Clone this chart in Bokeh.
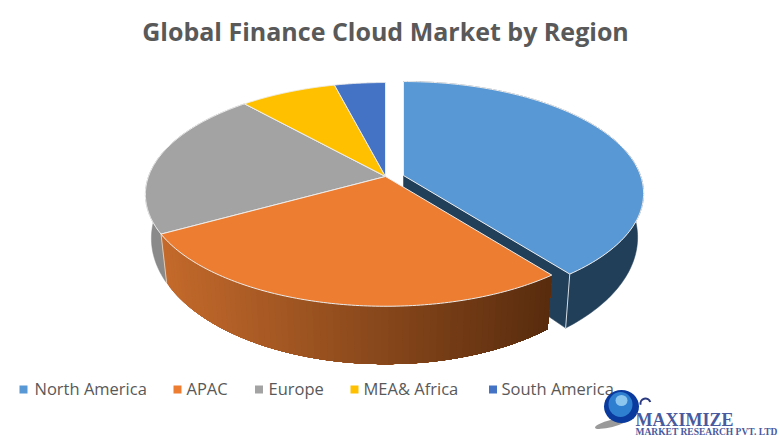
import numpy as np
from bokeh.plotting import figure
from bokeh.core.properties import value
from bokeh.embed import file_html
from bokeh.resources import INLINE

TITLE = "Global Finance Cloud Market by Region"
regions = ["North America", "APAC", "Europe", "MEA& Africa", "South America"]
shares = [39.5, 27.4, 21.5, 7.6, 4.0]
colors = ["#5898D4", "#ED7D31", "#A3A3A3", "#FFC000", "#4472C4"]
side_colors = ["#223F59", None, "#8A8A8A", "#A07800", "#2A4A80"]
legend_square_x = [23, 177, 258.5, 354, 492.5]
legend_text_x = [34, 186, 268, 363, 501]

W, H = 780, 440
p = figure(width=W, height=H, x_range=(0, W), y_range=(H, 0),
           output_backend="svg", toolbar_location=None, min_border=0,
           outline_line_color=None, background_fill_color="white", border_fill_color="white")
p.axis.visible = False
p.grid.visible = False

CX, CY = 385.0, 176.0
EXPLODE = (18.0, -1.0)
R, S, K = 237.0, 109.0, 0.16
SX, SY, SH = 0.975, 1.125, 41.7


def proj(t):
    u, v = np.sin(t), np.cos(t)
    w = 1 + K * v
    return R * u / w, -S * v / w


def top_pts(a, b, c):
    t = np.linspace(a, b, 120)
    dx, dy = proj(t)
    return c[0] + dx, c[1] + dy


def bottom_pts(a, b, c):
    t = np.linspace(a, b, 120)
    dx, dy = proj(t)
    return c[0] + dx * SX, c[1] + dy * SY + SH


edges = np.radians(np.cumsum([0] + shares) / sum(shares) * 360)
slices = list(zip(edges[:-1], edges[1:]))
centers = [(CX + EXPLODE[0], CY + EXPLODE[1])] + [(CX, CY)] * 4


def side(i, color):
    a, b = slices[i]
    c = centers[i]
    tx, ty = top_pts(a, b, c)
    bx, by = bottom_pts(a, b, c)
    p.patch(np.r_[tx, bx[::-1]], np.r_[ty, by[::-1]], fill_color=color, line_color=color, line_width=0.5)


side(2, side_colors[2])

a0, b0 = slices[0]
c0 = centers[0]
ex, ey = top_pts(b0, b0, c0)
fx, fy = bottom_pts(b0, b0, c0)
p.patch([c0[0], ex[0], fx[0], c0[0]], [c0[1], ey[0], fy[0], c0[1] + SH],
        fill_color=side_colors[0], line_color=side_colors[0], line_width=0.5)
side(0, side_colors[0])
p.line([ex[0], fx[0]], [ey[0], fy[0]], line_color="#D5DCE3", line_width=1)

# Orange rim: overlapping strips painted from the left end to the right end
a1, b1 = slices[1]
c1 = centers[1]
ts = np.linspace(b1, a1, 70)
x_l = c1[0] + proj(b1)[0]
x_r = c1[0] + proj(a1)[0]
for s in ts[:-1]:
    tx, ty = top_pts(s, a1, c1)
    bx, by = bottom_pts(s, a1, c1)
    f = float(np.clip((tx[0] - x_l) / (x_r - x_l), 0, 1))
    col = "#%02X%02X%02X" % (int(196 - 108 * f), int(106 - 62 * f), int(44 - 30 * f))
    p.patch(np.r_[tx, bx[::-1]], np.r_[ty, by[::-1]], fill_color=col, line_color=None)
lx, ly = top_pts(b1, b1, c1)
mx, my = bottom_pts(b1, b1, c1)
p.line([lx[0], mx[0]], [ly[0], my[0]], line_color="#E3C8B0", line_width=1)

for i in [2, 3, 4, 1, 0]:
    a, b = slices[i]
    c = centers[i]
    tx, ty = top_pts(a, b, c)
    p.patch(np.r_[c[0], tx], np.r_[c[1], ty], fill_color=colors[i], line_color="#EDEDED", line_width=1)

p.text([385], [30], text=[TITLE], text_font=value("Open Sans"), text_font_style="bold",
       text_font_size="25px", text_color="#595959", text_align="center", text_baseline="middle")

for sx, tx, lab, col in zip(legend_square_x, legend_text_x, regions, colors):
    p.scatter([sx], [389], marker="square", size=8, fill_color=col, line_color=None)
    p.text([tx], [388], text=[lab], text_font=value("Open Sans"), text_font_size="16.5px",
           text_color="#595959", text_align="left", text_baseline="middle")

# Logo
p.ellipse([611], [423], width=34, height=7, angle=0.25, fill_color="#9A9A9A", line_color=None)
p.ellipse([621], [406], width=35, height=33, fill_color="#0A3A9E", line_color=None)
p.ellipse([620], [404], width=24, height=25, fill_color="#2F7FD0", line_color=None)
p.ellipse([621], [400], width=12, height=11, fill_color="#8CC5EE", line_color=None)
p.arc([645], [403], radius=5, start_angle=0.3, end_angle=3.4, line_color="#2B3A80", line_width=2)
p.text([635], [419], text=["MAXIMIZE"], text_font=value("Liberation Serif"), text_font_style="bold",
       text_font_size="18px", text_color="#4A5A9E", text_align="left", text_baseline="middle")
p.text([635], [431], text=["MARKET RESEARCH PVT. LTD"], text_font=value("Liberation Serif"), text_font_style="bold",
       text_font_size="9.5px", text_color="#4A5A9E", text_align="left", text_baseline="middle")

open("out.html", "w").write(file_html(p, INLINE))
